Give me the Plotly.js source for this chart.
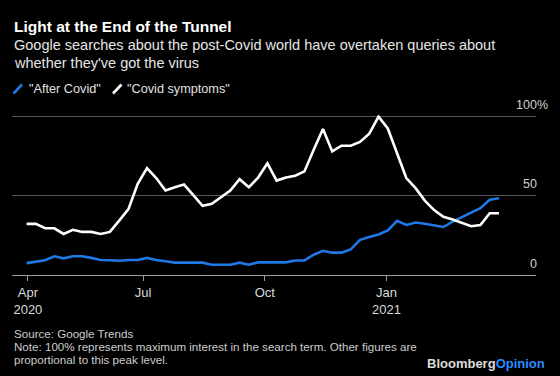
<!DOCTYPE html>
<html>
<head>
<meta charset="utf-8">
<script src="https://cdn.plot.ly/plotly-3.0.1.min.js"></script>
<style>
  html, body { margin: 0; padding: 0; background: #000; }
  #chart { width: 560px; height: 376px; }
</style>
</head>
<body>
<div id="chart"></div>
<script>
// ---- data (weekly Google Trends interest) ----
const weeks = [
  '2020-04-04','2020-04-11','2020-04-18','2020-04-25','2020-05-02','2020-05-09','2020-05-16','2020-05-23','2020-05-30',
  '2020-06-06','2020-06-13','2020-06-20','2020-06-27','2020-07-04','2020-07-11','2020-07-18','2020-07-25',
  '2020-08-01','2020-08-08','2020-08-15','2020-08-22','2020-08-29','2020-09-05','2020-09-12','2020-09-19','2020-09-26',
  '2020-10-03','2020-10-10','2020-10-17','2020-10-24','2020-10-31','2020-11-07','2020-11-14','2020-11-21','2020-11-28',
  '2020-12-05','2020-12-12','2020-12-19','2020-12-26','2021-01-02','2021-01-09','2021-01-16','2021-01-23','2021-01-30',
  '2021-02-06','2021-02-13','2021-02-20','2021-02-27','2021-03-06','2021-03-13','2021-03-20','2021-03-27'
];
const afterCovid = [
  7.5, 8.5, 9.3, 11.8, 10.5, 11.8, 11.8, 10.8, 9.5, 9.3,
  9.0, 9.5, 9.5, 10.8, 9.5, 8.7, 7.8, 7.8, 7.8, 7.8,
  6.5, 6.5, 6.5, 7.8, 6.5, 8.0, 8.0, 8.0, 8.0, 9.2,
  9.2, 12.8, 15.3, 14.1, 14.1, 16.2, 22.2, 24.0, 25.6, 28.2,
  34.2, 31.6, 33.1, 32.4, 31.2, 30.3, 33.7, 36.7, 39.2, 42.2,
  47.5, 48.4
];
const covidSymptoms = [
  32.3, 32.3, 29.5, 29.5, 25.9, 28.5, 27.2, 27.2, 25.9, 27.2,
  34.3, 41.6, 57.5, 67.5, 61.2, 53.4, 55.4, 57.1, 50.4, 43.7,
  44.9, 49.2, 53.3, 60.5, 55.4, 61.5, 70.5, 59.6, 61.6, 62.7,
  65.4, 79.0, 92.2, 78.0, 81.6, 81.6, 84.0, 89.2, 100, 92.5,
  77.2, 61.2, 54.8, 47.0, 41.0, 36.7, 35.0, 32.7, 30.8, 31.6,
  39.0, 39.0
];
const seriesNames = ['"After Covid"', '"Covid symptoms"'];
const xTickVals = ['2020-04-05', '2020-07-01', '2020-10-01', '2021-01-01'];
const xTickText = ['Apr<br>2020', 'Jul', 'Oct', 'Jan<br>2021'];
const yTickVals = [0, 50, 100];
const yTickText = ['0', '50', '100'];
const yTickSuffix = ['', '', '%'];

// ---- layout helpers (pixel -> paper) ----
const W = 560, H = 376;
const M = { l: 12, r: 24, t: 115, b: 101 };
const PW = W - M.l - M.r, PH = H - M.t - M.b;
const px = x => (x - M.l) / PW;
const py = y => (H - M.b - y) / PH;

const FONT = 'Liberation Sans, Arial, sans-serif';
const BLUE = '#1f78e6';
const LABEL = '#cfcfcf';

const traces = [
  { x: weeks, y: afterCovid, name: seriesNames[0], type: 'scatter', mode: 'lines',
    line: { color: BLUE, width: 2.6 }, hoverinfo: 'skip' },
  { x: weeks, y: covidSymptoms, name: seriesNames[1], type: 'scatter', mode: 'lines',
    line: { color: '#ffffff', width: 2.6 }, hoverinfo: 'skip' }
];

function txt(text, x, y, size, color, opts) {
  return Object.assign({
    text: text, xref: 'paper', yref: 'paper', x: px(x), y: py(y),
    xanchor: 'left', yanchor: 'middle', showarrow: false,
    font: { family: FONT, size: size, color: color }
  }, opts || {});
}

const annotations = [
  txt('<b>Light at the End of the Tunnel</b>', 12, 26.2, 15.5, '#ffffff'),
  txt('Google searches about the post-Covid world have overtaken queries about', 12, 44.8, 14.5, '#e6e6e6'),
  txt('whether they\'ve got the virus', 12, 62.8, 14.5, '#e6e6e6'),
  txt(seriesNames[0], 27, 88.5, 12.7, '#e0e0e0'),
  txt(seriesNames[1], 125, 88.5, 12.7, '#e0e0e0'),
  txt('Source: Google Trends', 12, 333.3, 11.6, '#cccccc'),
  txt('Note: 100% represents maximum interest in the search term. Other figures are', 12, 346.6, 11.6, '#cccccc'),
  txt('proportional to this peak level.', 12, 359.9, 11.6, '#cccccc'),
  txt('<b><span style="color:#dcdcdc">Bloomberg</span><span style="color:#2b8cff">Opinion</span></b>', 547, 363.3, 13, '#dcdcdc', { xanchor: 'right' })
];

// y-axis value labels sit just above their gridlines, right-aligned at the plot edge
yTickVals.forEach(function (v, i) {
  annotations.push({ text: yTickText[i], xref: 'paper', yref: 'y', x: 1, y: v,
    xanchor: 'right', yanchor: 'middle', yshift: 11.5, xshift: 1, showarrow: false,
    borderpad: 0, borderwidth: 0,
    font: { family: FONT, size: 12.5, color: LABEL } });
  if (yTickSuffix[i]) {
    annotations.push({ text: yTickSuffix[i], xref: 'paper', yref: 'y', x: 1, y: v,
      xanchor: 'left', yanchor: 'middle', yshift: 11.5, xshift: 1, showarrow: false,
      borderpad: 0, borderwidth: 0,
      font: { family: FONT, size: 12.5, color: LABEL } });
  }
});

const shapes = [
  { type: 'line', xref: 'paper', yref: 'paper', x0: px(13.5), y0: py(93.5), x1: px(22), y1: py(84.5),
    line: { color: BLUE, width: 2.6 } },
  { type: 'line', xref: 'paper', yref: 'paper', x0: px(113), y0: py(93.5), x1: px(121.5), y1: py(84.5),
    line: { color: '#ffffff', width: 2.6 } }
];

const layout = {
  width: W, height: H,
  margin: { l: M.l, r: M.r, t: M.t, b: M.b, pad: 0 },
  paper_bgcolor: '#000000', plot_bgcolor: '#000000',
  showlegend: false,
  font: { family: FONT, color: '#d9d9d9' },
  xaxis: {
    type: 'date', range: ['2020-03-24', '2021-04-24'],
    tickmode: 'array', tickvals: xTickVals, ticktext: xTickText,
    showgrid: false, zeroline: false,
    showline: true, linecolor: '#9a9a9a', linewidth: 1,
    ticks: 'outside', ticklen: 5, tickwidth: 1, tickcolor: '#9a9a9a',
    tickfont: { family: FONT, size: 13, color: '#d9d9d9' },
    fixedrange: true
  },
  yaxis: {
    range: [0, 101], side: 'right',
    tickmode: 'array', tickvals: yTickVals,
    showticklabels: false,
    showgrid: true, gridcolor: '#555555', gridwidth: 1,
    zeroline: false, showline: false, ticks: '',
    fixedrange: true
  },
  annotations: annotations,
  shapes: shapes
};

Plotly.newPlot('chart', traces, layout, { staticPlot: true, displayModeBar: false });
</script>
</body>
</html>
